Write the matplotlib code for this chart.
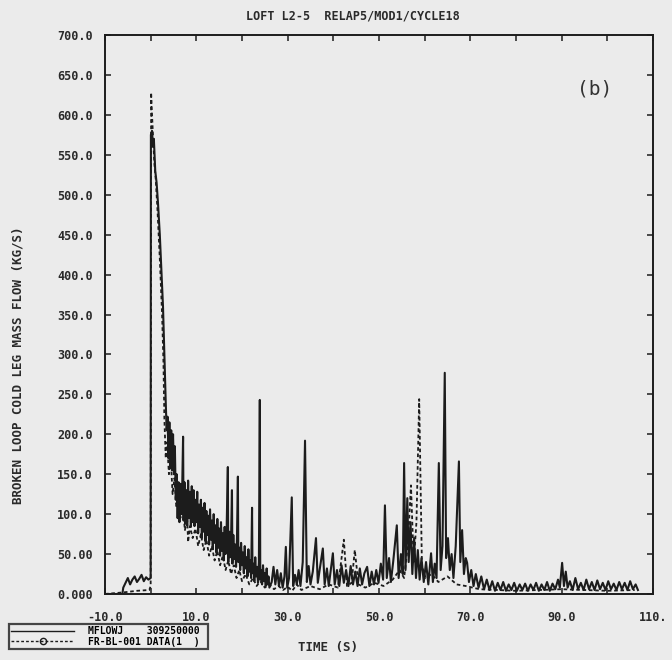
import matplotlib
matplotlib.use("Agg")
import matplotlib.pyplot as plt
from matplotlib.lines import Line2D
import numpy as np

# ---- data (time in s, flow in kg/s) ----
calc_t = [-10.0, -6.2, -6.0, -5.5, -5.0, -4.5, -4.0, -3.5, -3.0, -2.5, -2.0, -1.5, -1.0, -0.5,
          0.0, 0.05, 0.3, 0.5, 0.7, 1.0, 1.3, 1.6, 2.0, 2.4, 2.7, 3.0, 3.3,
          3.5, 3.7, 3.9, 4.1, 4.3, 4.5, 4.7, 4.9, 5.1, 5.3, 5.5, 5.7, 5.9, 6.1, 6.3, 6.5,
          6.7, 6.9, 7.1, 7.2, 7.4, 7.6, 7.8, 8.0, 8.2, 8.4, 8.6, 8.8, 9.0, 9.2, 9.4, 9.6,
          9.8, 10.0, 10.2, 10.4, 10.6, 10.8, 11.0, 11.2, 11.4, 11.6, 11.8, 12.0, 12.2,
          12.4, 12.6, 12.8, 13.0, 13.2, 13.4, 13.6, 13.8, 14.0, 14.2, 14.4, 14.6, 14.8,
          15.0, 15.2, 15.4, 15.6, 15.8, 16.0, 16.2, 16.4, 16.6, 16.9, 17.0, 17.2, 17.4,
          17.6, 17.8, 17.9, 18.1, 18.3, 18.5, 18.7, 18.9, 19.1, 19.2, 19.4, 19.6, 19.8,
          20.0, 20.2, 20.4, 20.6, 20.8, 21.0, 21.2, 21.4, 21.6, 21.8, 22.0, 22.2, 22.3,
          22.5, 22.7, 22.9, 23.1, 23.3, 23.5, 23.7, 23.9, 24.0, 24.2, 24.4, 24.6, 24.8,
          25.0, 25.2, 25.4, 25.6, 25.8, 26.0,
          26.5, 26.9, 27.3, 27.7, 28.1, 28.5, 28.9, 29.3, 29.6, 29.9, 30.3, 30.9, 31.2,
          31.6, 32.0, 32.4, 32.8, 33.3, 33.8, 34.2, 34.6, 35.0, 35.5, 36.2, 36.6, 37.0,
          37.7, 38.1, 38.6, 39.0, 39.9, 40.3, 40.8, 41.3, 41.8, 42.3, 42.8, 43.3, 43.8,
          44.3, 44.8, 45.3, 45.8, 46.3, 46.8, 47.4, 47.9, 48.4, 48.9, 49.4, 49.9, 50.4,
          50.9, 51.3, 51.7, 52.2, 52.6, 53.1, 53.9, 54.3, 54.8, 55.2, 55.5, 55.8, 56.2,
          56.5, 56.9, 57.3, 57.7, 58.1, 58.5, 58.9, 59.3, 59.8, 60.3, 60.8, 61.4, 61.8,
          62.2, 62.6, 63.1, 63.5, 63.9, 64.4, 64.7, 65.1, 65.5, 65.9, 66.3, 66.8, 67.5,
          67.8, 68.2, 68.6, 69.0, 69.3, 69.7, 70.2, 70.7, 71.2, 71.8, 72.4, 73.0, 73.6,
          74.2, 74.8, 75.4, 76.0, 76.6, 77.2, 77.8, 78.4, 79.0, 79.6, 80.2, 80.8, 81.4,
          82.0, 82.6, 83.2, 83.8, 84.4, 85.0, 85.6, 86.2, 86.8, 87.4, 88.0, 88.6, 89.2,
          89.6, 90.1, 90.5, 90.9, 91.3, 91.8, 92.4, 93.0, 93.6, 94.2, 94.8, 95.4, 96.0,
          96.6, 97.2, 97.8, 98.4, 99.0, 99.6, 100.2, 100.8, 101.4, 102.0, 102.6, 103.2,
          103.8, 104.4, 105.0, 105.6, 106.2, 106.7]
calc_v = [0, 0, 8, 14, 20, 12, 18, 22, 15, 19, 24, 16, 21, 18,
          20, 575, 580, 560, 570, 530, 515, 490, 450, 400, 360, 300, 240,
          205, 222, 170, 215, 160, 205, 155, 200, 150, 185, 118, 150, 95, 140, 90, 138,
          100, 132, 197, 92, 140, 88, 130, 86, 142, 95, 128, 84, 135, 90, 130, 85,
          118, 90, 128, 76, 112, 84, 118, 70, 108, 78, 114, 66, 104,
          74, 98, 62, 106, 68, 92, 56, 100, 64, 86, 52, 94, 58,
          82, 48, 90, 54, 76, 42, 84, 50, 72, 159, 40, 78, 46,
          68, 130, 38, 74, 44, 62, 34, 70, 147, 40, 58, 30, 64,
          36, 52, 26, 60, 32, 46, 22, 56, 28, 42, 20, 108, 26,
          38, 16, 46, 22, 34, 14, 40, 243, 18, 30, 12, 36, 16,
          26, 10, 32, 12, 22, 8,
          15, 34, 12, 30, 10, 26, 8, 22, 59, 8, 20, 121, 10,
          24, 12, 30, 10, 40, 192, 15, 35, 12, 28, 70, 14, 30,
          57, 12, 32, 10, 51, 12, 30, 10, 36, 14, 30, 10, 35,
          12, 28, 10, 32, 12, 26, 34, 10, 28, 12, 30, 14, 38,
          18, 111, 20, 45, 15, 40, 86, 20, 50, 25, 164, 30, 120,
          40, 90, 25, 70, 20, 55, 18, 45, 15, 40, 12, 51, 15,
          38, 20, 164, 30, 60, 277, 45, 70, 30, 50, 20, 60, 166,
          40, 80, 25, 45, 39, 15, 30, 10, 25, 8, 22, 6, 18,
          5, 16, 4, 14, 5, 15, 4, 12, 5, 14, 4, 12, 5,
          13, 4, 12, 5, 14, 4, 12, 5, 15, 4, 13, 6, 18,
          8, 39, 10, 28, 8, 16, 5, 20, 6, 14, 5, 18, 6,
          15, 5, 17, 6, 14, 5, 16, 6, 13, 5, 15, 6,
          14, 5, 16, 6, 12, 5]

data_t = [-10.0, -6.0, -3.0, -0.3, 0.0, 0.1, 0.3, 0.5, 0.8, 1.1, 1.5, 2.0, 2.5, 2.8,
          3.0, 3.3, 3.6, 4.0, 4.4, 4.8, 5.2, 5.6, 6.0, 6.5, 7.0, 7.5, 8.0, 8.2, 8.6,
          9.2, 9.8, 10.4, 11.0, 11.6, 12.2, 12.8, 13.4, 14.0, 14.6, 15.2, 15.8, 16.4,
          17.0, 17.6, 18.2, 18.8, 19.4, 20.0, 20.8, 21.6, 22.4, 23.2, 24.0, 25.0, 26.0,
          27.0, 28.0, 29.0, 30.0, 31.0, 32.0, 33.0, 35.0, 37.0, 39.0, 41.0, 42.3, 43.0,
          44.0, 44.7, 45.5, 47.0, 49.0, 51.0, 53.0, 54.5, 55.5, 56.3, 57.0, 57.6, 58.2,
          58.8, 59.4, 60.2, 61.5, 63.0, 65.0, 67.0, 69.0, 72.0, 76.0, 80.0, 85.0, 90.0,
          95.0, 100.0, 106.0]
data_v = [0, 2, 4, 5, 10, 628, 600, 575, 540, 520, 480, 420, 350, 290,
          220, 170, 190, 150, 170, 125, 145, 110, 125, 95, 110, 80, 95, 65, 85,
          70, 82, 60, 75, 55, 68, 48, 60, 42, 54, 36, 48, 30,
          42, 25, 36, 20, 30, 16, 25, 12, 20, 10, 16, 8, 12,
          6, 10, 5, 9, 4, 12, 5, 10, 6, 12, 8, 68, 10,
          14, 55, 12, 8, 14, 10, 18, 30, 20, 60, 136, 40, 90,
          244, 35, 20, 25, 15, 22, 12, 10, 6, 5, 4, 5, 6,
          5, 4, 5]

y_ticks = np.arange(0, 701, 50)
y_labels = ["0.000", "50.00"] + ["%.1f" % v for v in y_ticks[2:]]
x_major = [-10, 10, 30, 50, 70, 90, 110]
x_labels = ["-10.0", "10.0", "30.0", "50.0", "70.0", "90.0", "110."]

bg = "#ebebeb"
ink = "#1c1c1c"
txt = "#2a2a2a"
mono = {"family": "DejaVu Sans Mono", "weight": "bold"}

fig = plt.figure(figsize=(6.72, 6.60), dpi=100, facecolor=bg)
ax = fig.add_axes([105/672, 1-594/660, 548/672, 559/660], facecolor=bg)

ax.plot(calc_t, calc_v, color=ink, lw=1.5)
ax.plot(data_t, data_v, color=ink, lw=1.3, ls=(0, (2, 1.5)))

ax.set_xlim(-10, 110)
ax.set_ylim(0, 700)
ax.set_xticks(np.arange(-10, 111, 10))
ax.set_xticklabels([x_labels[x_major.index(v)] if v in x_major else "" for v in range(-10, 111, 10)])
ax.set_yticks(y_ticks)
ax.set_yticklabels(y_labels)
ax.tick_params(direction="in", length=4, width=1.1, color=ink, top=True, right=True,
               labelsize=8.5, labelcolor=txt)
ax.tick_params(axis="y", pad=9)
ax.tick_params(axis="x", pad=12)
for lab in ax.get_xticklabels() + ax.get_yticklabels():
    lab.set_fontfamily("DejaVu Sans Mono")
    lab.set_fontweight("bold")
for s in ax.spines.values():
    s.set_linewidth(1.4)
    s.set_color(ink)

fig.text(353/672, 1-16/660, "LOFT L2-5  RELAP5/MOD1/CYCLE18", ha="center", va="center",
         fontsize=8.5, color=txt, **mono)
fig.text(18/672, 1-365/660, "BROKEN LOOP COLD LEG MASS FLOW (KG/S)", rotation=90,
         ha="center", va="center", fontsize=9, color=txt, **mono)
fig.text(328/672, 1-648/660, "TIME (S)", ha="center", va="center", fontsize=9,
         color=txt, **mono)
ax.text(0.893, 0.903, "(b)", transform=ax.transAxes, ha="center", va="center",
        fontsize=14, color="#333333", family="DejaVu Sans Mono")

handles = [Line2D([], [], color=ink, lw=1.0),
           Line2D([], [], color=ink, lw=1.0, ls=(0, (2, 1.5)), marker="o", ms=4.5,
                  markevery=[1], mfc="none")]
leg = fig.legend(handles, ["MFLOWJ    309250000 ", "FR-BL-001 DATA(1  ) "],
                 loc="lower left", bbox_to_anchor=(4/672, 6/660),
                 prop={"family": "DejaVu Sans Mono", "weight": "bold", "size": 7},
                 frameon=True, fancybox=False, edgecolor=ink, facecolor=bg,
                 borderpad=0.25, labelspacing=0.05, handlelength=6.5, handletextpad=1.4)
leg.get_frame().set_linewidth(1.6)

fig.savefig("out.png", dpi=100, facecolor=bg)
